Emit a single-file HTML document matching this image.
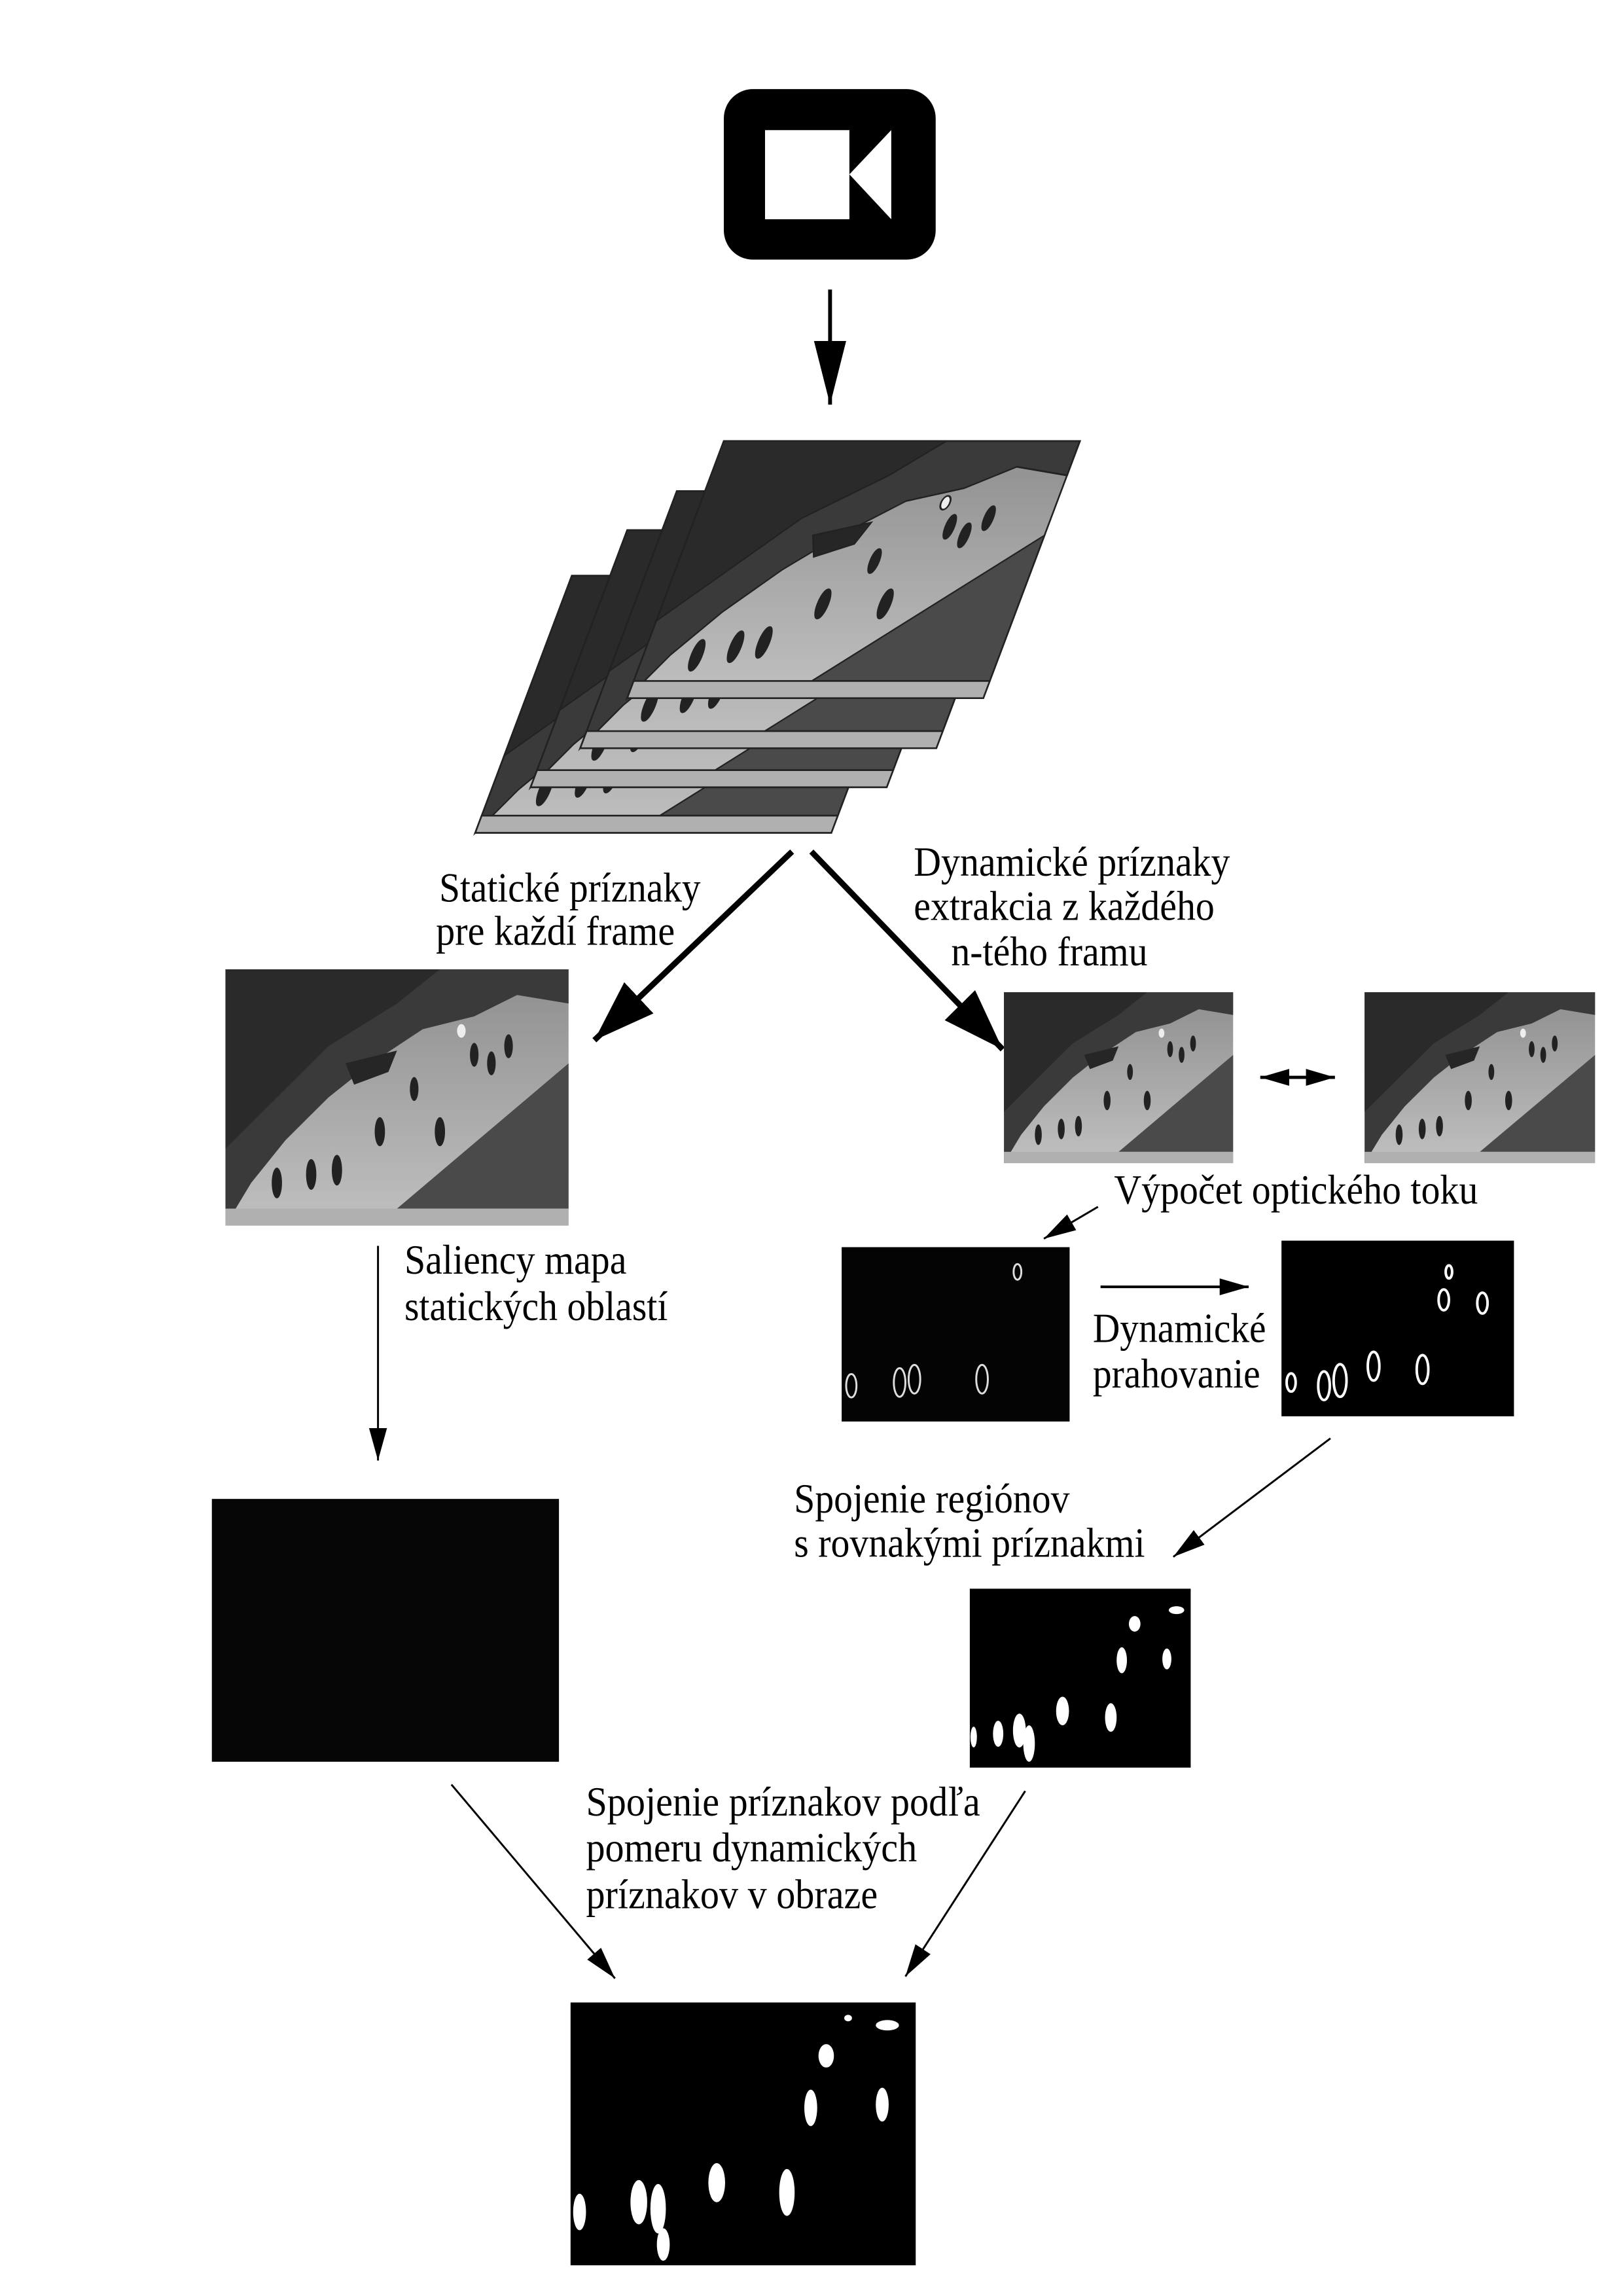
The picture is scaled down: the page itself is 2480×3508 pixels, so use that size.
<!DOCTYPE html>
<html><head><meta charset="utf-8"><style>
html,body{margin:0;padding:0;background:#fff;}
svg{display:block;}
text{font-family:"Liberation Serif",serif;font-size:64px;fill:#000;}
</style></head><body>
<svg width="2480" height="3508" viewBox="0 0 2480 3508" xmlns="http://www.w3.org/2000/svg">
<defs>
<linearGradient id="g1" x1="0" y1="0" x2="0" y2="1"><stop offset="0" stop-color="#8e8e8e"/><stop offset="1" stop-color="#c0c0c0"/></linearGradient>
<g id="photo">
<rect x="0" y="0" width="400" height="300" fill="url(#g1)"/>
<polygon points="0,0 400,0 400,40 340,30 290,55 230,70 170,110 120,150 70,200 30,250 0,300" fill="#3a3a3a"/>
<polygon points="0,0 250,0 200,40 120,90 60,150 0,210" fill="#2a2a2a"/>
<polygon points="140,110 200,95 190,120 150,135" fill="#262626"/>
<polygon points="400,110 400,280 200,280" fill="#4a4a4a"/>
<rect x="0" y="280" width="400" height="20" fill="#b0b0b0"/>
<g fill="#222">
<ellipse cx="290" cy="100" rx="5" ry="14"/><ellipse cx="310" cy="110" rx="5" ry="14"/><ellipse cx="330" cy="90" rx="5" ry="14"/>
<ellipse cx="180" cy="190" rx="6" ry="17"/><ellipse cx="250" cy="190" rx="6" ry="17"/><ellipse cx="100" cy="240" rx="6" ry="18"/>
<ellipse cx="130" cy="235" rx="6" ry="18"/><ellipse cx="60" cy="250" rx="6" ry="18"/><ellipse cx="220" cy="140" rx="5" ry="14"/>
</g>
<ellipse cx="275" cy="72" rx="5" ry="8" fill="#eee"/>
</g>
<marker id="mThick" markerUnits="userSpaceOnUse" markerWidth="100" markerHeight="70" refX="95" refY="33" orient="auto"><path d="M0,0 L95,33 L0,66 z" fill="#000"/></marker>
<marker id="mCam" markerUnits="userSpaceOnUse" markerWidth="100" markerHeight="60" refX="98" refY="25" orient="auto"><path d="M0,0 L98,25 L0,50 z" fill="#000"/></marker>
<marker id="mThin" markerUnits="userSpaceOnUse" markerWidth="60" markerHeight="40" refX="50" refY="14" orient="auto"><path d="M0,0 L50,14 L0,28 z" fill="#000"/></marker>
<marker id="mMed" markerUnits="userSpaceOnUse" markerWidth="60" markerHeight="40" refX="45" refY="13" orient="auto"><path d="M0,0 L45,13 L0,26 z" fill="#000"/></marker>
<marker id="mMedS" markerUnits="userSpaceOnUse" markerWidth="60" markerHeight="40" refX="45" refY="13" orient="auto-start-reverse"><path d="M0,0 L45,13 L0,26 z" fill="#000"/></marker>
</defs>
<g transform="scale(0.984,0.994)">
<!-- camera -->
<rect x="1124" y="137" width="329" height="262" rx="45" fill="#000"/>
<rect x="1188" y="200" width="131" height="137" fill="#fff"/>
<polygon points="1319,268 1384,200 1384,337" fill="#fff"/>
<line x1="1289" y1="445" x2="1289" y2="622" stroke="#000" stroke-width="6" marker-end="url(#mCam)"/>

<!-- stacked frames -->
<g stroke="#222" stroke-width="2">
<g transform="matrix(1.3825,0,-0.5,1.317,888,885)"><use href="#photo"/></g>
<g transform="matrix(1.3825,0,-0.5,1.317,974,815)"><use href="#photo"/></g>
<g transform="matrix(1.3825,0,-0.5,1.317,1051,755)"><use href="#photo"/></g>
<g transform="matrix(1.3825,0,-0.5,1.317,1124,678)"><use href="#photo"/></g>
</g>

<!-- stack arrows -->
<line x1="1230" y1="1309" x2="923" y2="1599" stroke="#000" stroke-width="9" marker-end="url(#mThick)"/>
<line x1="1260" y1="1309" x2="1557" y2="1613" stroke="#000" stroke-width="9" marker-end="url(#mThick)"/>

<text x="682" y="1386" textLength="406" lengthAdjust="spacingAndGlyphs">Statické príznaky</text>
<text x="677" y="1452" textLength="371" lengthAdjust="spacingAndGlyphs">pre každí frame</text>
<text x="1419" y="1346" textLength="491" lengthAdjust="spacingAndGlyphs">Dynamické príznaky</text>
<text x="1419" y="1414" textLength="467" lengthAdjust="spacingAndGlyphs">extrakcia z každého</text>
<text x="1477" y="1484" textLength="305" lengthAdjust="spacingAndGlyphs">n-tého framu</text>

<svg x="350" y="1490" width="533" height="394" viewBox="0 0 400 300" preserveAspectRatio="none"><use href="#photo"/></svg>
<svg x="1559" y="1525" width="356" height="263" viewBox="0 0 400 300" preserveAspectRatio="none"><use href="#photo"/></svg>
<svg x="2119" y="1525" width="358" height="263" viewBox="0 0 400 300" preserveAspectRatio="none"><use href="#photo"/></svg>
<line x1="1957" y1="1656" x2="2073" y2="1656" stroke="#000" stroke-width="5" marker-start="url(#mMedS)" marker-end="url(#mMedS)"/>

<text x="1730" y="1850" textLength="565" lengthAdjust="spacingAndGlyphs">Výpočet optického toku</text>
<line x1="1705" y1="1855" x2="1621" y2="1904" stroke="#000" stroke-width="3" marker-end="url(#mThin)"/>

<rect x="1307" y="1917" width="354" height="268" fill="#040404"/>
<g fill="none" stroke="#ddd" stroke-width="3">
<ellipse cx="1397" cy="2125" rx="9" ry="22"/><ellipse cx="1420" cy="2120" rx="9" ry="22"/><ellipse cx="1525" cy="2120" rx="9" ry="22"/>
<ellipse cx="1322" cy="2130" rx="8" ry="18"/><ellipse cx="1580" cy="1955" rx="6" ry="12"/>
</g>
<line x1="1709" y1="1978" x2="1939" y2="1978" stroke="#000" stroke-width="4" marker-end="url(#mMed)"/>
<text x="1697" y="2063" textLength="269" lengthAdjust="spacingAndGlyphs">Dynamické</text>
<text x="1697" y="2133" textLength="260" lengthAdjust="spacingAndGlyphs">prahovanie</text>

<rect x="1990" y="1907" width="361" height="270" fill="#000"/>
<g fill="none" stroke="#fff" stroke-width="4">
<ellipse cx="2081" cy="2122" rx="10" ry="25"/><ellipse cx="2056" cy="2130" rx="9" ry="22"/><ellipse cx="2133" cy="2100" rx="9" ry="22"/>
<ellipse cx="2209" cy="2105" rx="9" ry="22"/><ellipse cx="2242" cy="1998" rx="8" ry="16"/><ellipse cx="2302" cy="2003" rx="8" ry="16"/>
<ellipse cx="2250" cy="1955" rx="5" ry="10"/><ellipse cx="2005" cy="2125" rx="7" ry="14"/>
</g>
<line x1="2066" y1="2211" x2="1822" y2="2393" stroke="#000" stroke-width="3" marker-end="url(#mThin)"/>
<text x="1233" y="2325" textLength="428" lengthAdjust="spacingAndGlyphs">Spojenie regiónov</text>
<text x="1233" y="2393" textLength="545" lengthAdjust="spacingAndGlyphs">s rovnakými príznakmi</text>

<rect x="1506" y="2442" width="343" height="275" fill="#000"/>
<g fill="#fff">
<ellipse cx="1550" cy="2665" rx="8" ry="20"/><ellipse cx="1583" cy="2660" rx="10" ry="26"/><ellipse cx="1598" cy="2680" rx="9" ry="28"/>
<ellipse cx="1650" cy="2630" rx="10" ry="22"/><ellipse cx="1725" cy="2640" rx="9" ry="22"/><ellipse cx="1742" cy="2552" rx="8" ry="20"/>
<ellipse cx="1812" cy="2550" rx="7" ry="16"/><ellipse cx="1762" cy="2496" rx="9" ry="12"/><ellipse cx="1827" cy="2475" rx="12" ry="6"/>
<ellipse cx="1512" cy="2670" rx="5" ry="16"/>
</g>

<text x="628" y="1958" textLength="345" lengthAdjust="spacingAndGlyphs">Saliency mapa</text>
<text x="628" y="2029" textLength="409" lengthAdjust="spacingAndGlyphs">statických oblastí</text>
<line x1="587" y1="1915" x2="587" y2="2245" stroke="#000" stroke-width="3" marker-end="url(#mThin)"/>
<rect x="329" y="2304" width="539" height="404" fill="#060606"/>

<line x1="701" y1="2743" x2="955" y2="3041" stroke="#000" stroke-width="3" marker-end="url(#mThin)"/>
<line x1="1592" y1="2753" x2="1406" y2="3038" stroke="#000" stroke-width="3" marker-end="url(#mThin)"/>
<text x="910" y="2791" textLength="612" lengthAdjust="spacingAndGlyphs">Spojenie príznakov podľa</text>
<text x="910" y="2861" textLength="514" lengthAdjust="spacingAndGlyphs">pomeru dynamických</text>
<text x="910" y="2933" textLength="453" lengthAdjust="spacingAndGlyphs">príznakov v obraze</text>

<rect x="886" y="3078" width="536" height="404" fill="#000"/>
<g fill="#fff">
<ellipse cx="900" cy="3400" rx="10" ry="28"/><ellipse cx="992" cy="3385" rx="13" ry="34"/><ellipse cx="1022" cy="3395" rx="12" ry="38"/>
<ellipse cx="1030" cy="3450" rx="10" ry="25"/><ellipse cx="1113" cy="3355" rx="13" ry="30"/><ellipse cx="1222" cy="3370" rx="12" ry="36"/>
<ellipse cx="1259" cy="3240" rx="10" ry="28"/><ellipse cx="1370" cy="3235" rx="10" ry="26"/><ellipse cx="1283" cy="3160" rx="12" ry="18"/>
<ellipse cx="1378" cy="3113" rx="18" ry="8"/><ellipse cx="1317" cy="3102" rx="6" ry="5"/>
</g>
</g>
</svg>
</body></html>
